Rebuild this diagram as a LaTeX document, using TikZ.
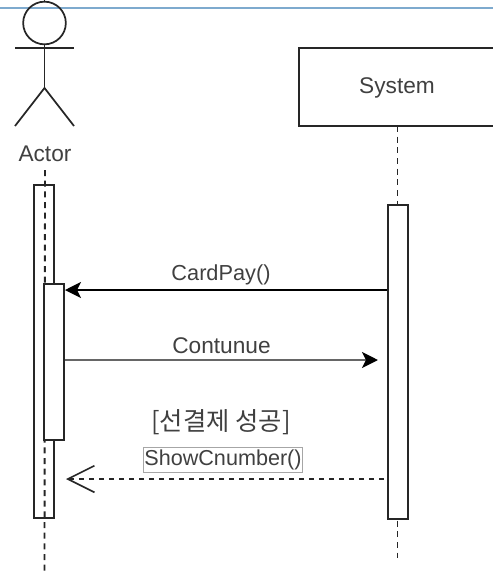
\documentclass[tikz,border=0pt]{standalone}
\usepackage{fontspec}
\setmainfont{Liberation Sans}
\newfontfamily\krfont{Noto Sans CJK KR}
\usetikzlibrary{arrows.meta}

\tikzset{
	lifeline/.style={line width=1.4pt, dash pattern=on 4.5pt off 3.5pt, color=black!85},
	activation/.style={draw=black!85, line width=1.5pt, minimum width=15pt, inner sep=0pt},
	msgtext/.style={text=black!75, font=\fontsize{17}{19}\selectfont, inner sep=0pt},
	limb/.style={line width=1.3pt, color=black!85}
}

\begin{document}
\begin{tikzpicture}[x=0.75pt, y=-0.75pt]
	\useasboundingbox (0,0) rectangle (493,572);
	\clip (0,0) rectangle (493,572);
	% top rule
	\coordinate (RuleL) at (0,8);
	\coordinate (RuleR) at (493,8);
	\draw [line width=1.1pt, color=blue!45!cyan!45!gray!70] (RuleL) -- (RuleR);
	% actor
	\coordinate (ActorTop) at (44.5,-1);
	\coordinate (ActorEnd) at (44.5,572);
	\coordinate (ArmL) at (15,48);
	\coordinate (ArmR) at (74,48);
	\coordinate (Hip) at (44.5,88);
	\coordinate (LegL) at (15,126);
	\coordinate (LegR) at (74,126);
	\node [circle, draw=black!85, line width=1.3pt, minimum size=32pt, inner sep=0pt] (Head) at (44.5,23) {};
	\draw [limb] (ArmL) -- (ArmR);
	\draw [limb] (Head.south) -- (Hip);
	\draw [limb] (LegL) -- (Hip) -- (LegR);
	\node [msgtext] (Actor) at (45,154) {Actor};
	% system
	\node [draw=black!85, line width=1.5pt, minimum width=147pt, minimum height=58.5pt, inner sep=0pt, msgtext] (System) at (397,87) {};
	\node [msgtext] (SystemText) at (397,88) {System};
	\coordinate (SystemEnd) at (397.5,558);
	% lifelines
	\draw [lifeline] (ActorTop) -- (Head.north);
	\draw [lifeline] (Actor.south |- 0,170) -- (ActorEnd);
	\draw [lifeline] (397.5,126) -- (SystemEnd);
	% activations
	\node [activation, minimum height=249.75pt] (ActorBar) at (44,351.5) {};
	\node [activation, fill=white, minimum height=117pt] (ActorCall) at (54,362) {};
	\node [activation, fill=white, minimum height=235.5pt] (SystemBar) at (397.5,361.5) {};
	% messages
	\coordinate (CardS) at (SystemBar.west |- 0,290);
	\coordinate (CardE) at (ActorCall.east |- 0,290);
	\coordinate (ContS) at (ActorCall.east |- 0,360);
	\coordinate (ContE) at (378,360);
	\coordinate (ShowS) at (384,479);
	\coordinate (ShowE) at (66,479);
	\draw [-{Stealth[length=12pt, width=12pt, inset=3pt]}, line width=1.2pt, color=black] (CardS) -- (CardE);
	\draw [-{Stealth[length=12pt, width=12pt, inset=3pt, color=black]}, line width=2pt, color=black!60] (ContS) -- (ContE);
	\draw [-{Straight Barb[length=20pt, width=20pt, line width=1.2pt, color=black!85]}, line width=1.2pt, dash pattern=on 4pt off 3.5pt, color=black!85] (ShowS) -- (ShowE);
	% labels
	\node [msgtext, font=\fontsize{16.3}{18}\selectfont] (CardPay) at (221,275) {CardPay()};
	\node [msgtext] (Contunue) at (221.5,346) {Contunue};
	\node [msgtext, font=\fontsize{19}{21}\krfont] (Guard) at (221,422) {[선결제 성공]};
	\node [msgtext, font=\fontsize{16.2}{18}\selectfont, draw=black!35, line width=0.6pt, fill=white, minimum width=119.5pt, minimum height=19pt] (Show) at (223,460) {ShowCnumber()};
\end{tikzpicture}
\end{document}
